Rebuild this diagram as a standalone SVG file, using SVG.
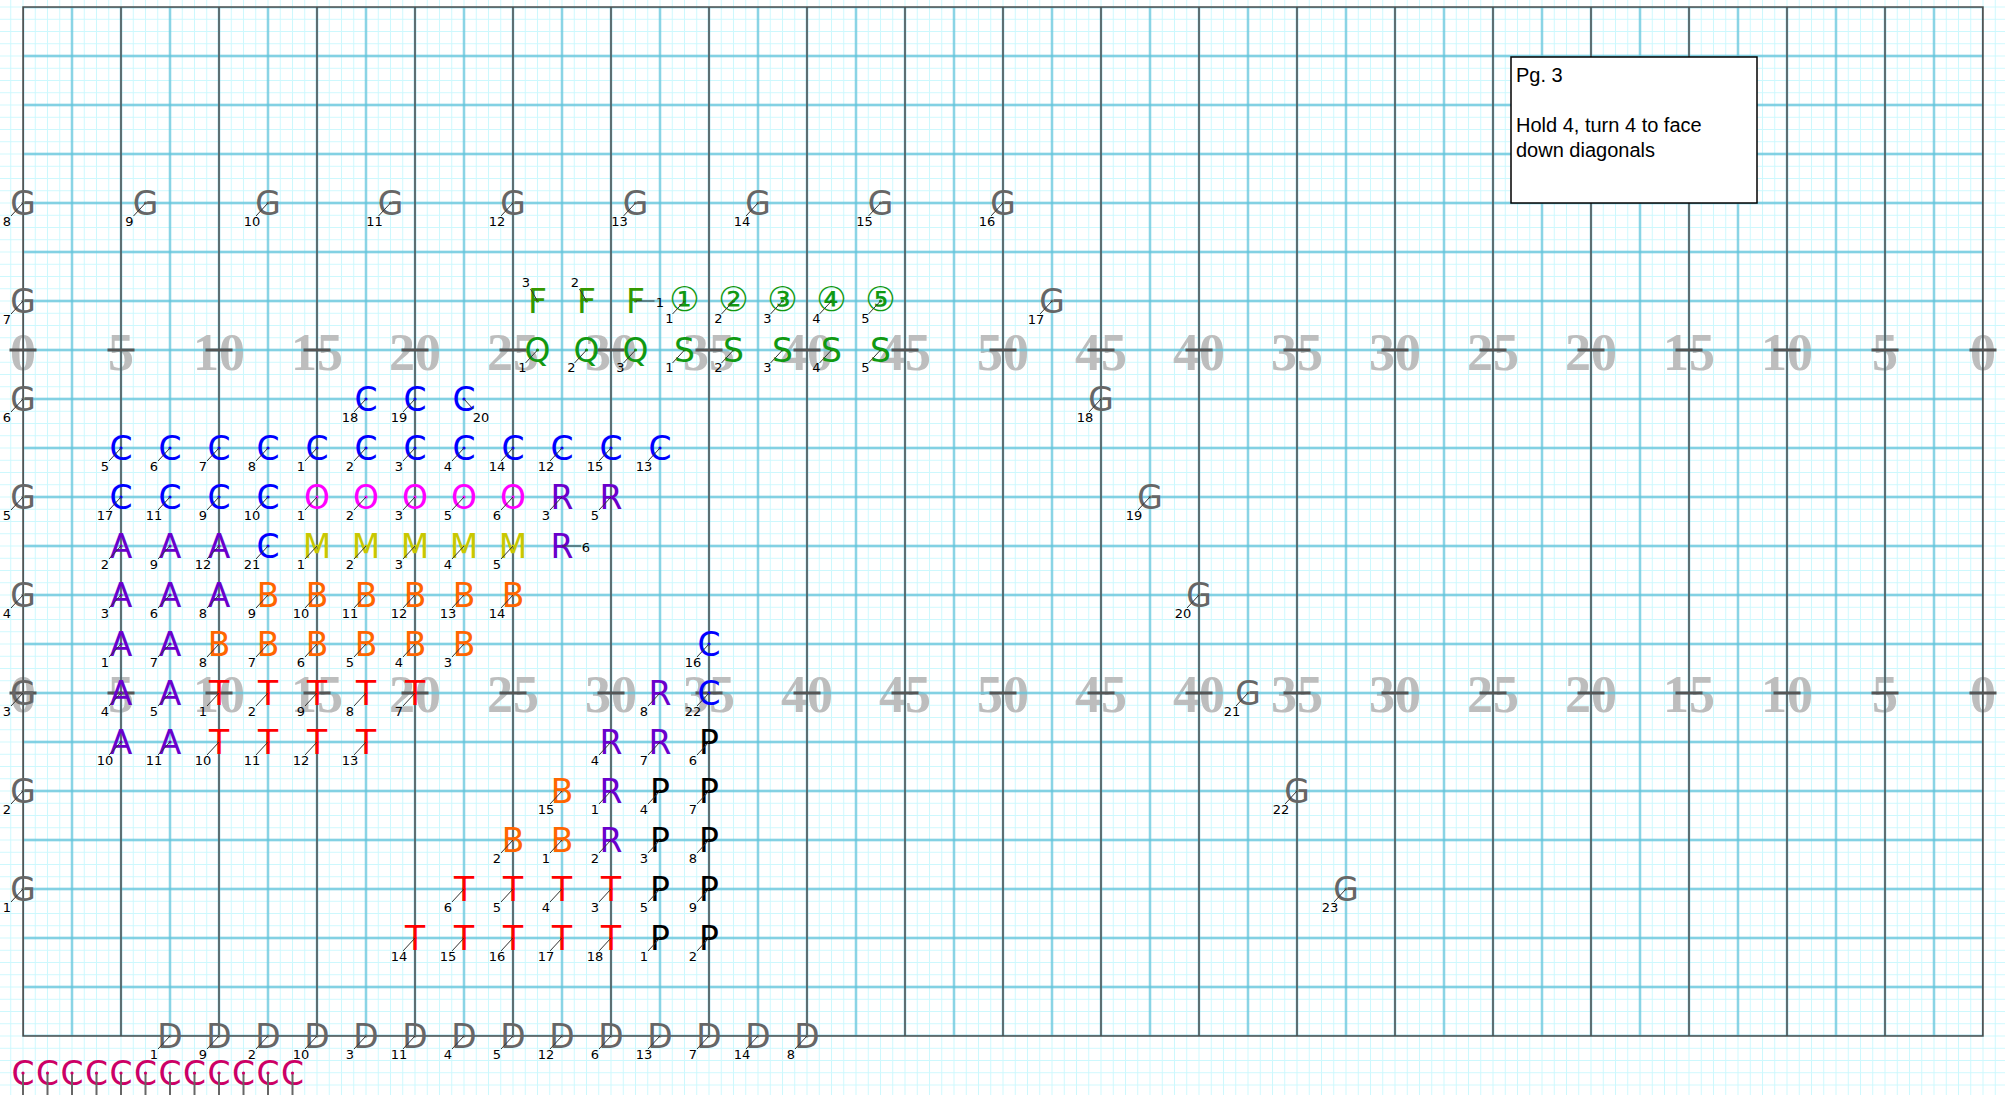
<svg xmlns="http://www.w3.org/2000/svg" xmlns:xlink="http://www.w3.org/1999/xlink" width="2005" height="1095" viewBox="0 0 2005 1095">
<style>
.mk{font-family:"DejaVu Sans",sans-serif;font-size:33px;text-anchor:middle}
.cn{font-family:"DejaVu Sans","Noto Sans CJK JP",sans-serif;font-size:34px;text-anchor:middle}
.lb{font-family:"DejaVu Sans",sans-serif;font-size:13px;text-anchor:middle;fill:#000}
.ld{stroke:#333;stroke-width:1;fill:none}
.yn{font-family:"Liberation Serif",serif;font-weight:bold;font-size:52px;text-anchor:middle;fill:#bdbdbd}
.note{font-family:"Liberation Sans",Arial,sans-serif;font-size:20px;fill:#000}
.g{fill:#666}.cb{fill:#0000ff}.o{fill:#ff00ff}.m{fill:#c8c800}.r{fill:#6a00cc}.a{fill:#6a00cc}
.b{fill:#ff6600}.t{fill:#ff0000}.p{fill:#000}.f{fill:#339900}.q{fill:#119911}.cc{fill:#cc0066}
</style>
<defs>
<pattern id="fine" patternUnits="userSpaceOnUse" x="16.875" y="0.875" width="12.25" height="12.25"><path d="M6.125 0V12.25M0 6.125H12.25" stroke="#cdf8fd" stroke-width="1"/></pattern>
<pattern id="blue" patternUnits="userSpaceOnUse" x="-1.5" y="-17.5" width="49" height="49"><path d="M24.5 0V49M0 24.5H49" stroke="#62c3da" stroke-width="1.8"/></pattern>
<pattern id="dark" patternUnits="userSpaceOnUse" x="-26" y="0" width="98" height="49"><path d="M49 0V49" stroke="#4d4d4d" stroke-width="1.5"/></pattern>
<g id="ll"><circle r="1.6"/><path class="ld" d="M0 0l-12 13"/></g>
</defs>
<g id="field">
<rect width="2005" height="1095" fill="#fff"/>
<rect width="2005" height="1095" fill="url(#fine)"/>
<g id="yardnumbers">
<text class="yn" x="23" y="370">0</text><text class="yn" x="121" y="370">5</text><text class="yn" x="219" y="370">10</text><text class="yn" x="317" y="370">15</text><text class="yn" x="415" y="370">20</text><text class="yn" x="513" y="370">25</text><text class="yn" x="611" y="370">30</text><text class="yn" x="709" y="370">35</text><text class="yn" x="807" y="370">40</text><text class="yn" x="905" y="370">45</text><text class="yn" x="1003" y="370">50</text><text class="yn" x="1101" y="370">45</text><text class="yn" x="1199" y="370">40</text><text class="yn" x="1297" y="370">35</text><text class="yn" x="1395" y="370">30</text><text class="yn" x="1493" y="370">25</text><text class="yn" x="1591" y="370">20</text><text class="yn" x="1689" y="370">15</text><text class="yn" x="1787" y="370">10</text><text class="yn" x="1885" y="370">5</text><text class="yn" x="1983" y="370">0</text>
<text class="yn" x="23" y="712">0</text><text class="yn" x="121" y="712">5</text><text class="yn" x="219" y="712">10</text><text class="yn" x="317" y="712">15</text><text class="yn" x="415" y="712">20</text><text class="yn" x="513" y="712">25</text><text class="yn" x="611" y="712">30</text><text class="yn" x="709" y="712">35</text><text class="yn" x="807" y="712">40</text><text class="yn" x="905" y="712">45</text><text class="yn" x="1003" y="712">50</text><text class="yn" x="1101" y="712">45</text><text class="yn" x="1199" y="712">40</text><text class="yn" x="1297" y="712">35</text><text class="yn" x="1395" y="712">30</text><text class="yn" x="1493" y="712">25</text><text class="yn" x="1591" y="712">20</text><text class="yn" x="1689" y="712">15</text><text class="yn" x="1787" y="712">10</text><text class="yn" x="1885" y="712">5</text><text class="yn" x="1983" y="712">0</text>
</g>
<rect x="23" y="7" width="1960" height="1029" fill="url(#blue)"/>
<rect x="23" y="7" width="1960" height="1029" fill="url(#dark)"/>
<rect x="23" y="7" width="1960" height="1029" fill="none" stroke="#4d4d4d" stroke-width="1.5"/>
<path stroke="#555" stroke-width="3" fill="none" d="M9.5 350h27m71 0h27m71 0h27m71 0h27m71 0h27m71 0h27m71 0h27m71 0h27m71 0h27m71 0h27m71 0h27m71 0h27m71 0h27m71 0h27m71 0h27m71 0h27m71 0h27m71 0h27m71 0h27m71 0h27m71 0h27M9.5 693h27m71 0h27m71 0h27m71 0h27m71 0h27m71 0h27m71 0h27m71 0h27m71 0h27m71 0h27m71 0h27m71 0h27m71 0h27m71 0h27m71 0h27m71 0h27m71 0h27m71 0h27m71 0h27m71 0h27m71 0h27"/>
</g>
<g id="connectors"/>
<g id="note">
<rect x="1511" y="57" width="246" height="146" fill="#fff" stroke="#000" stroke-width="1.5"/>
<text class="note" x="1516" y="82">Pg. 3</text>
<text class="note" x="1516" y="132">Hold 4, turn 4 to face</text>
<text class="note" x="1516" y="157">down diagonals</text>
</g>
<g id="markers">
<g id="G1" class="g" transform="translate(23 889)"><text class="mk" y="12">G</text><use xlink:href="#ll"/><text class="lb" x="-16" y="23">1</text></g>
<g id="G2" class="g" transform="translate(23 791)"><text class="mk" y="12">G</text><use xlink:href="#ll"/><text class="lb" x="-16" y="23">2</text></g>
<g id="G3" class="g" transform="translate(23 693)"><text class="mk" y="12">G</text><use xlink:href="#ll"/><text class="lb" x="-16" y="23">3</text></g>
<g id="G4" class="g" transform="translate(23 595)"><text class="mk" y="12">G</text><use xlink:href="#ll"/><text class="lb" x="-16" y="23">4</text></g>
<g id="G5" class="g" transform="translate(23 497)"><text class="mk" y="12">G</text><use xlink:href="#ll"/><text class="lb" x="-16" y="23">5</text></g>
<g id="G6" class="g" transform="translate(23 399)"><text class="mk" y="12">G</text><use xlink:href="#ll"/><text class="lb" x="-16" y="23">6</text></g>
<g id="G7" class="g" transform="translate(23 301)"><text class="mk" y="12">G</text><use xlink:href="#ll"/><text class="lb" x="-16" y="23">7</text></g>
<g id="G8" class="g" transform="translate(23 203)"><text class="mk" y="12">G</text><use xlink:href="#ll"/><text class="lb" x="-16" y="23">8</text></g>
<g id="G9" class="g" transform="translate(145.5 203)"><text class="mk" y="12">G</text><use xlink:href="#ll"/><text class="lb" x="-16" y="23">9</text></g>
<g id="G10" class="g" transform="translate(268 203)"><text class="mk" y="12">G</text><use xlink:href="#ll"/><text class="lb" x="-16" y="23">10</text></g>
<g id="G11" class="g" transform="translate(390.5 203)"><text class="mk" y="12">G</text><use xlink:href="#ll"/><text class="lb" x="-16" y="23">11</text></g>
<g id="G12" class="g" transform="translate(513 203)"><text class="mk" y="12">G</text><use xlink:href="#ll"/><text class="lb" x="-16" y="23">12</text></g>
<g id="G13" class="g" transform="translate(635.5 203)"><text class="mk" y="12">G</text><use xlink:href="#ll"/><text class="lb" x="-16" y="23">13</text></g>
<g id="G14" class="g" transform="translate(758 203)"><text class="mk" y="12">G</text><use xlink:href="#ll"/><text class="lb" x="-16" y="23">14</text></g>
<g id="G15" class="g" transform="translate(880.5 203)"><text class="mk" y="12">G</text><use xlink:href="#ll"/><text class="lb" x="-16" y="23">15</text></g>
<g id="G16" class="g" transform="translate(1003 203)"><text class="mk" y="12">G</text><use xlink:href="#ll"/><text class="lb" x="-16" y="23">16</text></g>
<g id="G17" class="g" transform="translate(1052 301)"><text class="mk" y="12">G</text><use xlink:href="#ll"/><text class="lb" x="-16" y="23">17</text></g>
<g id="G18" class="g" transform="translate(1101 399)"><text class="mk" y="12">G</text><use xlink:href="#ll"/><text class="lb" x="-16" y="23">18</text></g>
<g id="G19" class="g" transform="translate(1150 497)"><text class="mk" y="12">G</text><use xlink:href="#ll"/><text class="lb" x="-16" y="23">19</text></g>
<g id="G20" class="g" transform="translate(1199 595)"><text class="mk" y="12">G</text><use xlink:href="#ll"/><text class="lb" x="-16" y="23">20</text></g>
<g id="G21" class="g" transform="translate(1248 693)"><text class="mk" y="12">G</text><use xlink:href="#ll"/><text class="lb" x="-16" y="23">21</text></g>
<g id="G22" class="g" transform="translate(1297 791)"><text class="mk" y="12">G</text><use xlink:href="#ll"/><text class="lb" x="-16" y="23">22</text></g>
<g id="G23" class="g" transform="translate(1346 889)"><text class="mk" y="12">G</text><use xlink:href="#ll"/><text class="lb" x="-16" y="23">23</text></g>

<g id="F3" class="f" transform="translate(537.5 301)"><text class="mk" y="12">F</text><circle r="1.6"/><path class="ld" d="M0 0l-7 -12"/><text class="lb" x="-11.5" y="-14">3</text></g>
<g id="F2" class="f" transform="translate(586.5 301)"><text class="mk" y="12">F</text><circle r="1.6"/><path class="ld" d="M0 0l-7 -12"/><text class="lb" x="-11.5" y="-14">2</text></g>
<g id="F1" class="f" transform="translate(635.5 301)"><text class="mk" y="12">F</text><circle r="1.6"/><path class="ld" d="M0 0h19"/><text class="lb" x="24.5" y="5.5">1</text></g>
<g id="N1" class="q" transform="translate(684.5 301)"><text class="cn" y="10">①</text><use xlink:href="#ll"/><text class="lb" x="-15" y="22">1</text></g>
<g id="N2" class="q" transform="translate(733.5 301)"><text class="cn" y="10">②</text><use xlink:href="#ll"/><text class="lb" x="-15" y="22">2</text></g>
<g id="N3" class="q" transform="translate(782.5 301)"><text class="cn" y="10">③</text><use xlink:href="#ll"/><text class="lb" x="-15" y="22">3</text></g>
<g id="N4" class="q" transform="translate(831.5 301)"><text class="cn" y="10">④</text><use xlink:href="#ll"/><text class="lb" x="-15" y="22">4</text></g>
<g id="N5" class="q" transform="translate(880.5 301)"><text class="cn" y="10">⑤</text><use xlink:href="#ll"/><text class="lb" x="-15" y="22">5</text></g>
<g id="Q1" class="q" transform="translate(537.5 350)"><text class="mk" y="12">Q</text><use xlink:href="#ll"/><text class="lb" x="-15" y="22">1</text></g>
<g id="Q2" class="q" transform="translate(586.5 350)"><text class="mk" y="12">Q</text><use xlink:href="#ll"/><text class="lb" x="-15" y="22">2</text></g>
<g id="Q3" class="q" transform="translate(635.5 350)"><text class="mk" y="12">Q</text><use xlink:href="#ll"/><text class="lb" x="-15" y="22">3</text></g>
<g id="S1" class="q" transform="translate(684.5 350)"><text class="mk" y="12">S</text><use xlink:href="#ll"/><text class="lb" x="-15" y="22">1</text></g>
<g id="S2" class="q" transform="translate(733.5 350)"><text class="mk" y="12">S</text><use xlink:href="#ll"/><text class="lb" x="-15" y="22">2</text></g>
<g id="S3" class="q" transform="translate(782.5 350)"><text class="mk" y="12">S</text><use xlink:href="#ll"/><text class="lb" x="-15" y="22">3</text></g>
<g id="S4" class="q" transform="translate(831.5 350)"><text class="mk" y="12">S</text><use xlink:href="#ll"/><text class="lb" x="-15" y="22">4</text></g>
<g id="S5" class="q" transform="translate(880.5 350)"><text class="mk" y="12">S</text><use xlink:href="#ll"/><text class="lb" x="-15" y="22">5</text></g>

<g id="C18" class="cb" transform="translate(366 399)"><text class="mk" y="12">C</text><use xlink:href="#ll"/><text class="lb" x="-16" y="23">18</text></g>
<g id="C19" class="cb" transform="translate(415 399)"><text class="mk" y="12">C</text><use xlink:href="#ll"/><text class="lb" x="-16" y="23">19</text></g>
<g id="C20" class="cb" transform="translate(464 399)"><text class="mk" y="12">C</text><circle r="1.6"/><path class="ld" d="M0 0l9 10"/><text class="lb" x="17" y="23">20</text></g>
<g id="C5" class="cb" transform="translate(121 448)"><text class="mk" y="12">C</text><use xlink:href="#ll"/><text class="lb" x="-16" y="23">5</text></g>
<g id="C6" class="cb" transform="translate(170 448)"><text class="mk" y="12">C</text><use xlink:href="#ll"/><text class="lb" x="-16" y="23">6</text></g>
<g id="C7" class="cb" transform="translate(219 448)"><text class="mk" y="12">C</text><use xlink:href="#ll"/><text class="lb" x="-16" y="23">7</text></g>
<g id="C8" class="cb" transform="translate(268 448)"><text class="mk" y="12">C</text><use xlink:href="#ll"/><text class="lb" x="-16" y="23">8</text></g>
<g id="C1" class="cb" transform="translate(317 448)"><text class="mk" y="12">C</text><use xlink:href="#ll"/><text class="lb" x="-16" y="23">1</text></g>
<g id="C2" class="cb" transform="translate(366 448)"><text class="mk" y="12">C</text><use xlink:href="#ll"/><text class="lb" x="-16" y="23">2</text></g>
<g id="C3" class="cb" transform="translate(415 448)"><text class="mk" y="12">C</text><use xlink:href="#ll"/><text class="lb" x="-16" y="23">3</text></g>
<g id="C4" class="cb" transform="translate(464 448)"><text class="mk" y="12">C</text><use xlink:href="#ll"/><text class="lb" x="-16" y="23">4</text></g>
<g id="C14" class="cb" transform="translate(513 448)"><text class="mk" y="12">C</text><use xlink:href="#ll"/><text class="lb" x="-16" y="23">14</text></g>
<g id="C12" class="cb" transform="translate(562 448)"><text class="mk" y="12">C</text><use xlink:href="#ll"/><text class="lb" x="-16" y="23">12</text></g>
<g id="C15" class="cb" transform="translate(611 448)"><text class="mk" y="12">C</text><use xlink:href="#ll"/><text class="lb" x="-16" y="23">15</text></g>
<g id="C13" class="cb" transform="translate(660 448)"><text class="mk" y="12">C</text><use xlink:href="#ll"/><text class="lb" x="-16" y="23">13</text></g>
<g id="C17" class="cb" transform="translate(121 497)"><text class="mk" y="12">C</text><use xlink:href="#ll"/><text class="lb" x="-16" y="23">17</text></g>
<g id="C11" class="cb" transform="translate(170 497)"><text class="mk" y="12">C</text><use xlink:href="#ll"/><text class="lb" x="-16" y="23">11</text></g>
<g id="C9" class="cb" transform="translate(219 497)"><text class="mk" y="12">C</text><use xlink:href="#ll"/><text class="lb" x="-16" y="23">9</text></g>
<g id="C10" class="cb" transform="translate(268 497)"><text class="mk" y="12">C</text><use xlink:href="#ll"/><text class="lb" x="-16" y="23">10</text></g>
<g id="C21" class="cb" transform="translate(268 546)"><text class="mk" y="12">C</text><use xlink:href="#ll"/><text class="lb" x="-16" y="23">21</text></g>
<g id="C16" class="cb" transform="translate(709 644)"><text class="mk" y="12">C</text><use xlink:href="#ll"/><text class="lb" x="-16" y="23">16</text></g>
<g id="C22" class="cb" transform="translate(709 693)"><text class="mk" y="12">C</text><use xlink:href="#ll"/><text class="lb" x="-16" y="23">22</text></g>

<g id="O1" class="o" transform="translate(317 497)"><text class="mk" y="12">O</text><use xlink:href="#ll"/><text class="lb" x="-16" y="23">1</text></g>
<g id="O2" class="o" transform="translate(366 497)"><text class="mk" y="12">O</text><use xlink:href="#ll"/><text class="lb" x="-16" y="23">2</text></g>
<g id="O3" class="o" transform="translate(415 497)"><text class="mk" y="12">O</text><use xlink:href="#ll"/><text class="lb" x="-16" y="23">3</text></g>
<g id="O5" class="o" transform="translate(464 497)"><text class="mk" y="12">O</text><use xlink:href="#ll"/><text class="lb" x="-16" y="23">5</text></g>
<g id="O6" class="o" transform="translate(513 497)"><text class="mk" y="12">O</text><use xlink:href="#ll"/><text class="lb" x="-16" y="23">6</text></g>

<g id="R3" class="r" transform="translate(562 497)"><text class="mk" y="12">R</text><use xlink:href="#ll"/><text class="lb" x="-16" y="23">3</text></g>
<g id="R5" class="r" transform="translate(611 497)"><text class="mk" y="12">R</text><use xlink:href="#ll"/><text class="lb" x="-16" y="23">5</text></g>
<g id="R6" class="r" transform="translate(562 546)"><text class="mk" y="12">R</text><circle r="1.6"/><path class="ld" d="M0 0h19"/><text class="lb" x="24" y="5.5">6</text></g>
<g id="R8" class="r" transform="translate(660 693)"><text class="mk" y="12">R</text><use xlink:href="#ll"/><text class="lb" x="-16" y="23">8</text></g>
<g id="R4" class="r" transform="translate(611 742)"><text class="mk" y="12">R</text><use xlink:href="#ll"/><text class="lb" x="-16" y="23">4</text></g>
<g id="R7" class="r" transform="translate(660 742)"><text class="mk" y="12">R</text><use xlink:href="#ll"/><text class="lb" x="-16" y="23">7</text></g>
<g id="R1" class="r" transform="translate(611 791)"><text class="mk" y="12">R</text><use xlink:href="#ll"/><text class="lb" x="-16" y="23">1</text></g>
<g id="R2" class="r" transform="translate(611 840)"><text class="mk" y="12">R</text><use xlink:href="#ll"/><text class="lb" x="-16" y="23">2</text></g>

<g id="M1" class="m" transform="translate(317 546)"><text class="mk" y="12">M</text><use xlink:href="#ll"/><text class="lb" x="-16" y="23">1</text></g>
<g id="M2" class="m" transform="translate(366 546)"><text class="mk" y="12">M</text><use xlink:href="#ll"/><text class="lb" x="-16" y="23">2</text></g>
<g id="M3" class="m" transform="translate(415 546)"><text class="mk" y="12">M</text><use xlink:href="#ll"/><text class="lb" x="-16" y="23">3</text></g>
<g id="M4" class="m" transform="translate(464 546)"><text class="mk" y="12">M</text><use xlink:href="#ll"/><text class="lb" x="-16" y="23">4</text></g>
<g id="M5" class="m" transform="translate(513 546)"><text class="mk" y="12">M</text><use xlink:href="#ll"/><text class="lb" x="-16" y="23">5</text></g>

<g id="A2" class="a" transform="translate(121 546)"><text class="mk" y="12">A</text><use xlink:href="#ll"/><text class="lb" x="-16" y="23">2</text></g>
<g id="A9" class="a" transform="translate(170 546)"><text class="mk" y="12">A</text><use xlink:href="#ll"/><text class="lb" x="-16" y="23">9</text></g>
<g id="A12" class="a" transform="translate(219 546)"><text class="mk" y="12">A</text><use xlink:href="#ll"/><text class="lb" x="-16" y="23">12</text></g>
<g id="A3" class="a" transform="translate(121 595)"><text class="mk" y="12">A</text><use xlink:href="#ll"/><text class="lb" x="-16" y="23">3</text></g>
<g id="A6" class="a" transform="translate(170 595)"><text class="mk" y="12">A</text><use xlink:href="#ll"/><text class="lb" x="-16" y="23">6</text></g>
<g id="A8" class="a" transform="translate(219 595)"><text class="mk" y="12">A</text><use xlink:href="#ll"/><text class="lb" x="-16" y="23">8</text></g>
<g id="A1" class="a" transform="translate(121 644)"><text class="mk" y="12">A</text><use xlink:href="#ll"/><text class="lb" x="-16" y="23">1</text></g>
<g id="A7" class="a" transform="translate(170 644)"><text class="mk" y="12">A</text><use xlink:href="#ll"/><text class="lb" x="-16" y="23">7</text></g>
<g id="A4" class="a" transform="translate(121 693)"><text class="mk" y="12">A</text><use xlink:href="#ll"/><text class="lb" x="-16" y="23">4</text></g>
<g id="A5" class="a" transform="translate(170 693)"><text class="mk" y="12">A</text><use xlink:href="#ll"/><text class="lb" x="-16" y="23">5</text></g>
<g id="A10" class="a" transform="translate(121 742)"><text class="mk" y="12">A</text><use xlink:href="#ll"/><text class="lb" x="-16" y="23">10</text></g>
<g id="A11" class="a" transform="translate(170 742)"><text class="mk" y="12">A</text><use xlink:href="#ll"/><text class="lb" x="-16" y="23">11</text></g>

<g id="B9" class="b" transform="translate(268 595)"><text class="mk" y="12">B</text><use xlink:href="#ll"/><text class="lb" x="-16" y="23">9</text></g>
<g id="B10" class="b" transform="translate(317 595)"><text class="mk" y="12">B</text><use xlink:href="#ll"/><text class="lb" x="-16" y="23">10</text></g>
<g id="B11" class="b" transform="translate(366 595)"><text class="mk" y="12">B</text><use xlink:href="#ll"/><text class="lb" x="-16" y="23">11</text></g>
<g id="B12" class="b" transform="translate(415 595)"><text class="mk" y="12">B</text><use xlink:href="#ll"/><text class="lb" x="-16" y="23">12</text></g>
<g id="B13" class="b" transform="translate(464 595)"><text class="mk" y="12">B</text><use xlink:href="#ll"/><text class="lb" x="-16" y="23">13</text></g>
<g id="B14" class="b" transform="translate(513 595)"><text class="mk" y="12">B</text><use xlink:href="#ll"/><text class="lb" x="-16" y="23">14</text></g>
<g id="B8" class="b" transform="translate(219 644)"><text class="mk" y="12">B</text><use xlink:href="#ll"/><text class="lb" x="-16" y="23">8</text></g>
<g id="B7" class="b" transform="translate(268 644)"><text class="mk" y="12">B</text><use xlink:href="#ll"/><text class="lb" x="-16" y="23">7</text></g>
<g id="B6" class="b" transform="translate(317 644)"><text class="mk" y="12">B</text><use xlink:href="#ll"/><text class="lb" x="-16" y="23">6</text></g>
<g id="B5" class="b" transform="translate(366 644)"><text class="mk" y="12">B</text><use xlink:href="#ll"/><text class="lb" x="-16" y="23">5</text></g>
<g id="B4" class="b" transform="translate(415 644)"><text class="mk" y="12">B</text><use xlink:href="#ll"/><text class="lb" x="-16" y="23">4</text></g>
<g id="B3" class="b" transform="translate(464 644)"><text class="mk" y="12">B</text><use xlink:href="#ll"/><text class="lb" x="-16" y="23">3</text></g>
<g id="B15" class="b" transform="translate(562 791)"><text class="mk" y="12">B</text><use xlink:href="#ll"/><text class="lb" x="-16" y="23">15</text></g>
<g id="B2" class="b" transform="translate(513 840)"><text class="mk" y="12">B</text><use xlink:href="#ll"/><text class="lb" x="-16" y="23">2</text></g>
<g id="B1" class="b" transform="translate(562 840)"><text class="mk" y="12">B</text><use xlink:href="#ll"/><text class="lb" x="-16" y="23">1</text></g>

<g id="T1" class="t" transform="translate(219 693)"><text class="mk" y="12">T</text><use xlink:href="#ll"/><text class="lb" x="-16" y="23">1</text></g>
<g id="T2" class="t" transform="translate(268 693)"><text class="mk" y="12">T</text><use xlink:href="#ll"/><text class="lb" x="-16" y="23">2</text></g>
<g id="T9" class="t" transform="translate(317 693)"><text class="mk" y="12">T</text><use xlink:href="#ll"/><text class="lb" x="-16" y="23">9</text></g>
<g id="T8" class="t" transform="translate(366 693)"><text class="mk" y="12">T</text><use xlink:href="#ll"/><text class="lb" x="-16" y="23">8</text></g>
<g id="T7" class="t" transform="translate(415 693)"><text class="mk" y="12">T</text><use xlink:href="#ll"/><text class="lb" x="-16" y="23">7</text></g>
<g id="T10" class="t" transform="translate(219 742)"><text class="mk" y="12">T</text><use xlink:href="#ll"/><text class="lb" x="-16" y="23">10</text></g>
<g id="T11" class="t" transform="translate(268 742)"><text class="mk" y="12">T</text><use xlink:href="#ll"/><text class="lb" x="-16" y="23">11</text></g>
<g id="T12" class="t" transform="translate(317 742)"><text class="mk" y="12">T</text><use xlink:href="#ll"/><text class="lb" x="-16" y="23">12</text></g>
<g id="T13" class="t" transform="translate(366 742)"><text class="mk" y="12">T</text><use xlink:href="#ll"/><text class="lb" x="-16" y="23">13</text></g>
<g id="T6" class="t" transform="translate(464 889)"><text class="mk" y="12">T</text><use xlink:href="#ll"/><text class="lb" x="-16" y="23">6</text></g>
<g id="T5" class="t" transform="translate(513 889)"><text class="mk" y="12">T</text><use xlink:href="#ll"/><text class="lb" x="-16" y="23">5</text></g>
<g id="T4" class="t" transform="translate(562 889)"><text class="mk" y="12">T</text><use xlink:href="#ll"/><text class="lb" x="-16" y="23">4</text></g>
<g id="T3" class="t" transform="translate(611 889)"><text class="mk" y="12">T</text><use xlink:href="#ll"/><text class="lb" x="-16" y="23">3</text></g>
<g id="T14" class="t" transform="translate(415 938)"><text class="mk" y="12">T</text><use xlink:href="#ll"/><text class="lb" x="-16" y="23">14</text></g>
<g id="T15" class="t" transform="translate(464 938)"><text class="mk" y="12">T</text><use xlink:href="#ll"/><text class="lb" x="-16" y="23">15</text></g>
<g id="T16" class="t" transform="translate(513 938)"><text class="mk" y="12">T</text><use xlink:href="#ll"/><text class="lb" x="-16" y="23">16</text></g>
<g id="T17" class="t" transform="translate(562 938)"><text class="mk" y="12">T</text><use xlink:href="#ll"/><text class="lb" x="-16" y="23">17</text></g>
<g id="T18" class="t" transform="translate(611 938)"><text class="mk" y="12">T</text><use xlink:href="#ll"/><text class="lb" x="-16" y="23">18</text></g>

<g id="P6" class="p" transform="translate(709 742)"><text class="mk" y="12">P</text><use xlink:href="#ll"/><text class="lb" x="-16" y="23">6</text></g>
<g id="P4" class="p" transform="translate(660 791)"><text class="mk" y="12">P</text><use xlink:href="#ll"/><text class="lb" x="-16" y="23">4</text></g>
<g id="P7" class="p" transform="translate(709 791)"><text class="mk" y="12">P</text><use xlink:href="#ll"/><text class="lb" x="-16" y="23">7</text></g>
<g id="P3" class="p" transform="translate(660 840)"><text class="mk" y="12">P</text><use xlink:href="#ll"/><text class="lb" x="-16" y="23">3</text></g>
<g id="P8" class="p" transform="translate(709 840)"><text class="mk" y="12">P</text><use xlink:href="#ll"/><text class="lb" x="-16" y="23">8</text></g>
<g id="P5" class="p" transform="translate(660 889)"><text class="mk" y="12">P</text><use xlink:href="#ll"/><text class="lb" x="-16" y="23">5</text></g>
<g id="P9" class="p" transform="translate(709 889)"><text class="mk" y="12">P</text><use xlink:href="#ll"/><text class="lb" x="-16" y="23">9</text></g>
<g id="P1" class="p" transform="translate(660 938)"><text class="mk" y="12">P</text><use xlink:href="#ll"/><text class="lb" x="-16" y="23">1</text></g>
<g id="P2" class="p" transform="translate(709 938)"><text class="mk" y="12">P</text><use xlink:href="#ll"/><text class="lb" x="-16" y="23">2</text></g>

<g id="D1" class="g" transform="translate(170 1036)"><text class="mk" y="12">D</text><use xlink:href="#ll"/><text class="lb" x="-16" y="23">1</text></g>
<g id="D9" class="g" transform="translate(219 1036)"><text class="mk" y="12">D</text><use xlink:href="#ll"/><text class="lb" x="-16" y="23">9</text></g>
<g id="D2" class="g" transform="translate(268 1036)"><text class="mk" y="12">D</text><use xlink:href="#ll"/><text class="lb" x="-16" y="23">2</text></g>
<g id="D10" class="g" transform="translate(317 1036)"><text class="mk" y="12">D</text><use xlink:href="#ll"/><text class="lb" x="-16" y="23">10</text></g>
<g id="D3" class="g" transform="translate(366 1036)"><text class="mk" y="12">D</text><use xlink:href="#ll"/><text class="lb" x="-16" y="23">3</text></g>
<g id="D11" class="g" transform="translate(415 1036)"><text class="mk" y="12">D</text><use xlink:href="#ll"/><text class="lb" x="-16" y="23">11</text></g>
<g id="D4" class="g" transform="translate(464 1036)"><text class="mk" y="12">D</text><use xlink:href="#ll"/><text class="lb" x="-16" y="23">4</text></g>
<g id="D5" class="g" transform="translate(513 1036)"><text class="mk" y="12">D</text><use xlink:href="#ll"/><text class="lb" x="-16" y="23">5</text></g>
<g id="D12" class="g" transform="translate(562 1036)"><text class="mk" y="12">D</text><use xlink:href="#ll"/><text class="lb" x="-16" y="23">12</text></g>
<g id="D6" class="g" transform="translate(611 1036)"><text class="mk" y="12">D</text><use xlink:href="#ll"/><text class="lb" x="-16" y="23">6</text></g>
<g id="D13" class="g" transform="translate(660 1036)"><text class="mk" y="12">D</text><use xlink:href="#ll"/><text class="lb" x="-16" y="23">13</text></g>
<g id="D7" class="g" transform="translate(709 1036)"><text class="mk" y="12">D</text><use xlink:href="#ll"/><text class="lb" x="-16" y="23">7</text></g>
<g id="D14" class="g" transform="translate(758 1036)"><text class="mk" y="12">D</text><use xlink:href="#ll"/><text class="lb" x="-16" y="23">14</text></g>
<g id="D8" class="g" transform="translate(807 1036)"><text class="mk" y="12">D</text><use xlink:href="#ll"/><text class="lb" x="-16" y="23">8</text></g>

<g id="Cm1" class="cc" transform="translate(23 1073)"><text class="mk" y="12">C</text><path d="M0 1v22" stroke="#666" stroke-width="2"/><circle r="1.6"/></g>
<g id="Cm2" class="cc" transform="translate(47.5 1073)"><text class="mk" y="12">C</text><path d="M0 1v22" stroke="#666" stroke-width="2"/><circle r="1.6"/></g>
<g id="Cm3" class="cc" transform="translate(72 1073)"><text class="mk" y="12">C</text><path d="M0 1v22" stroke="#666" stroke-width="2"/><circle r="1.6"/></g>
<g id="Cm4" class="cc" transform="translate(96.5 1073)"><text class="mk" y="12">C</text><path d="M0 1v22" stroke="#666" stroke-width="2"/><circle r="1.6"/></g>
<g id="Cm5" class="cc" transform="translate(121 1073)"><text class="mk" y="12">C</text><path d="M0 1v22" stroke="#666" stroke-width="2"/><circle r="1.6"/></g>
<g id="Cm6" class="cc" transform="translate(145.5 1073)"><text class="mk" y="12">C</text><path d="M0 1v22" stroke="#666" stroke-width="2"/><circle r="1.6"/></g>
<g id="Cm7" class="cc" transform="translate(170 1073)"><text class="mk" y="12">C</text><path d="M0 1v22" stroke="#666" stroke-width="2"/><circle r="1.6"/></g>
<g id="Cm8" class="cc" transform="translate(194.5 1073)"><text class="mk" y="12">C</text><path d="M0 1v22" stroke="#666" stroke-width="2"/><circle r="1.6"/></g>
<g id="Cm9" class="cc" transform="translate(219 1073)"><text class="mk" y="12">C</text><path d="M0 1v22" stroke="#666" stroke-width="2"/><circle r="1.6"/></g>
<g id="Cm10" class="cc" transform="translate(243.5 1073)"><text class="mk" y="12">C</text><path d="M0 1v22" stroke="#666" stroke-width="2"/><circle r="1.6"/></g>
<g id="Cm11" class="cc" transform="translate(268 1073)"><text class="mk" y="12">C</text><path d="M0 1v22" stroke="#666" stroke-width="2"/><circle r="1.6"/></g>
<g id="Cm12" class="cc" transform="translate(292.5 1073)"><text class="mk" y="12">C</text><path d="M0 1v22" stroke="#666" stroke-width="2"/><circle r="1.6"/></g>
</g>
</svg>
